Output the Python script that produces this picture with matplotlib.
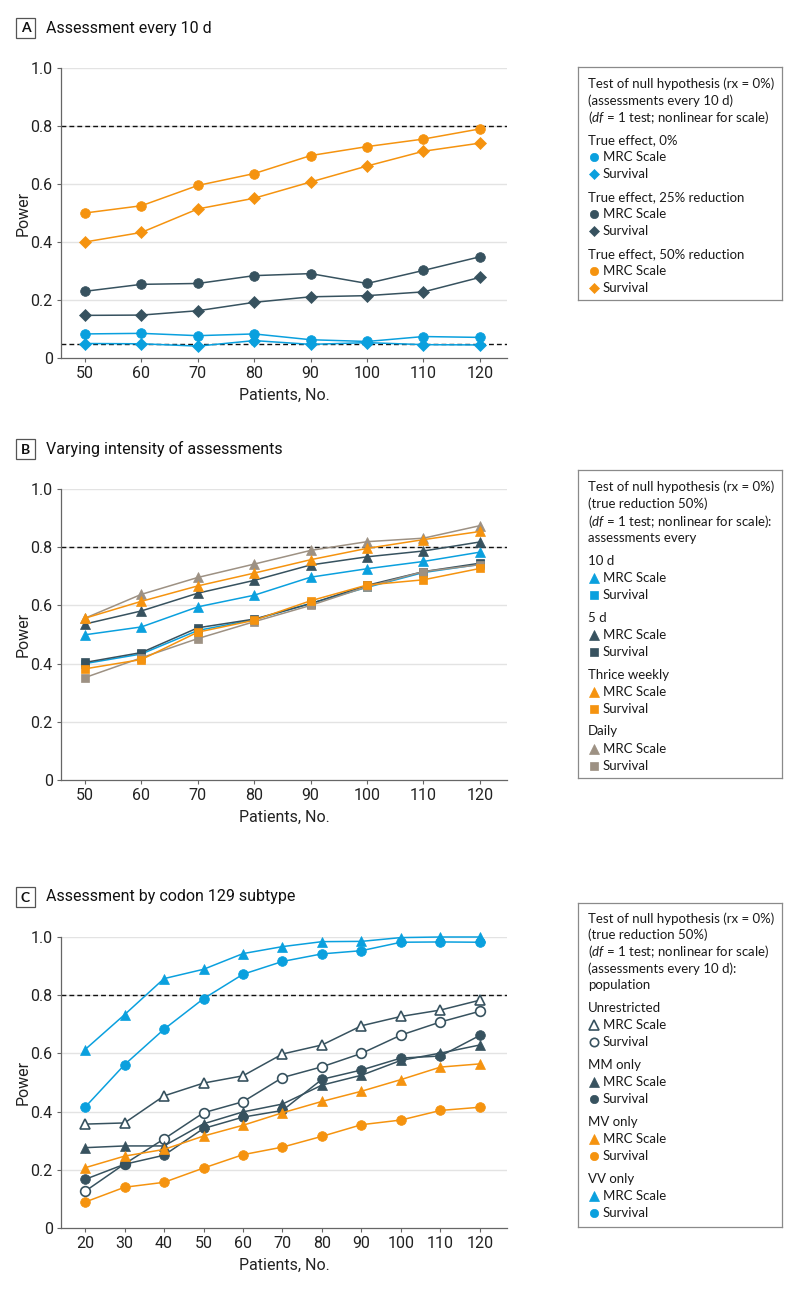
import matplotlib
matplotlib.use("Agg")
import matplotlib.pyplot as plt
from matplotlib.patches import Rectangle

# ---------------- data ----------------
patients_ab = [50, 60, 70, 80, 90, 100, 110, 120]
patients_c = [20, 30, 40, 50, 60, 70, 80, 90, 100, 110, 120]

# Panel A: assessments every 10 d
a_eff0_mrc = [0.083, 0.085, 0.077, 0.083, 0.063, 0.057, 0.074, 0.071]
a_eff0_surv = [0.050, 0.049, 0.041, 0.060, 0.047, 0.053, 0.046, 0.045]
a_eff25_mrc = [0.230, 0.254, 0.257, 0.284, 0.291, 0.257, 0.302, 0.349]
a_eff25_surv = [0.147, 0.148, 0.163, 0.192, 0.211, 0.215, 0.228, 0.278]
a_eff50_mrc = [0.500, 0.525, 0.595, 0.636, 0.698, 0.729, 0.755, 0.790]
a_eff50_surv = [0.400, 0.433, 0.514, 0.551, 0.607, 0.662, 0.713, 0.741]

# Panel B: varying intensity of assessments
b_10d_mrc = [0.499, 0.526, 0.595, 0.635, 0.697, 0.726, 0.751, 0.783]
b_10d_surv = [0.400, 0.433, 0.514, 0.551, 0.607, 0.662, 0.713, 0.741]
b_5d_mrc = [0.536, 0.581, 0.642, 0.686, 0.739, 0.767, 0.787, 0.818]
b_5d_surv = [0.404, 0.438, 0.523, 0.553, 0.606, 0.669, 0.716, 0.745]
b_thrice_mrc = [0.556, 0.614, 0.667, 0.711, 0.757, 0.796, 0.826, 0.854]
b_thrice_surv = [0.382, 0.414, 0.508, 0.549, 0.616, 0.670, 0.688, 0.727]
b_daily_mrc = [0.556, 0.638, 0.696, 0.742, 0.789, 0.819, 0.831, 0.874]
b_daily_surv = [0.352, 0.420, 0.486, 0.544, 0.600, 0.664, 0.716, 0.740]

# Panel C: codon 129 subtype
c_unres_mrc = [0.357, 0.361, 0.454, 0.498, 0.523, 0.598, 0.629, 0.695, 0.727, 0.749, 0.783]
c_unres_surv = [0.126, 0.220, 0.306, 0.396, 0.434, 0.517, 0.554, 0.600, 0.663, 0.708, 0.745]
c_mm_mrc = [0.276, 0.282, 0.282, 0.358, 0.399, 0.426, 0.491, 0.525, 0.576, 0.601, 0.629]
c_mm_surv = [0.167, 0.219, 0.250, 0.342, 0.381, 0.404, 0.511, 0.543, 0.584, 0.591, 0.662]
c_mv_mrc = [0.207, 0.247, 0.270, 0.316, 0.353, 0.396, 0.435, 0.470, 0.510, 0.553, 0.564]
c_mv_surv = [0.089, 0.140, 0.157, 0.206, 0.252, 0.278, 0.315, 0.355, 0.371, 0.404, 0.415]
c_vv_mrc = [0.613, 0.733, 0.857, 0.889, 0.943, 0.967, 0.984, 0.985, 0.998, 1.000, 1.000]
c_vv_surv = [0.415, 0.561, 0.683, 0.788, 0.872, 0.916, 0.942, 0.953, 0.982, 0.983, 0.982]

y_ticks = [0, 0.2, 0.4, 0.6, 0.8, 1.0]
y_tick_labels = ["0", "0.2", "0.4", "0.6", "0.8", "1.0"]

# ---------------- style ----------------
BLUE = "#0AA0DE"
DARK = "#37525F"
ORANGE = "#F5930F"
GRAY = "#9D9183"

AX_FONT = ["Liberation Sans Narrow", "Roboto", "DejaVu Sans"]
LEG_FONT = ["Lato", "DejaVu Sans"]

plt.rcParams["mathtext.fontset"] = "custom"
plt.rcParams["mathtext.rm"] = "Lato"
plt.rcParams["mathtext.it"] = "Lato:italic"

W, H = 800, 1290
fig = plt.figure(figsize=(W / 100, H / 100), dpi=100)


def fx(px):
    return px / W


def fy(py):
    return 1 - py / H


def make_axes(top_px, bottom_px, xlim, xticks):
    ax = fig.add_axes([fx(61), fy(bottom_px), fx(507 - 61), (bottom_px - top_px) / H])
    ax.set_xlim(*xlim)
    ax.set_ylim(0, 1.0)
    for y in y_ticks[1:]:
        ax.axhline(y, color="#E3E3E3", lw=1.0, zorder=0)
    ax.spines["top"].set_visible(False)
    ax.spines["right"].set_visible(False)
    ax.spines["left"].set_color("#666666")
    ax.spines["bottom"].set_color("#666666")
    ax.spines["left"].set_linewidth(0.9)
    ax.spines["bottom"].set_linewidth(0.9)
    ax.set_yticks(y_ticks)
    ax.set_yticklabels(y_tick_labels)
    ax.set_xticks(xticks)
    ax.set_xticklabels([str(v) for v in xticks])
    ax.tick_params(axis="both", length=3, width=0.8, color="#666666",
                   labelsize=11.5, labelcolor="#222222", pad=3)
    for lab in ax.get_xticklabels() + ax.get_yticklabels():
        lab.set_family(AX_FONT)
    ax.set_ylabel("Power", fontsize=11.5, family=AX_FONT, color="#222222", labelpad=0)
    ax.set_xlabel("Patients, No.", fontsize=11.5, family=AX_FONT, color="#222222", labelpad=5)
    ax.axhline(0.8, color="#111111", lw=1.0, ls=(0, (3.5, 2.2)), zorder=1)
    return ax


def series(ax, x, y, color, marker, ms, open_=False, z=3):
    ax.plot(x, y, color=color, lw=1.1, marker=marker, ms=ms,
            mfc="white" if open_ else color, mec=color,
            mew=1.2 if open_ else 0.5, zorder=z, clip_on=False)


def header(letter, text, cy):
    hax = fig.add_axes([0, 0, 1, 1], facecolor="none")
    hax.set_xlim(0, W)
    hax.set_ylim(H, 0)
    hax.axis("off")
    hax.add_patch(Rectangle((16, cy - 10), 19, 20, fill=False, ec="#555555", lw=0.9))
    hax.text(25.5, cy + 0.5, letter, ha="center", va="center", fontsize=10,
             fontweight="bold", family=LEG_FONT, color="#111111")
    hax.text(46, cy, text, ha="left", va="center", fontsize=11.5,
             family=AX_FONT, color="#111111")


def legend_box(top, bottom, title_lines, title_ys, entries):
    lax = fig.add_axes([fx(578), fy(bottom), fx(782 - 578), (bottom - top) / H])
    lax.set_xlim(578, 782)
    lax.set_ylim(bottom, top)
    lax.set_xticks([])
    lax.set_yticks([])
    for s in lax.spines.values():
        s.set_color("#8A8A8A")
        s.set_linewidth(0.9)
    for line, y in zip(title_lines, title_ys):
        lax.text(588, y, line, ha="left", va="center", fontsize=9.5,
                 family=LEG_FONT, color="#1A1A1A")
    for e in entries:
        if e[0] == "head":
            _, text, y = e
            lax.text(588, y, text, ha="left", va="center", fontsize=9.5,
                     family=LEG_FONT, color="#1A1A1A")
        else:
            _, text, y, color, marker, ms, open_ = e
            lax.plot([593.5], [y], marker=marker, ms=ms, color=color,
                     mfc="white" if open_ else color, mec=color,
                     mew=1.2 if open_ else 0.5, ls="none", clip_on=False)
            lax.text(603, y, text, ha="left", va="center", fontsize=9.5,
                     family=LEG_FONT, color="#1A1A1A")


# ---------------- Panel A ----------------
header("A", "Assessment every 10 d", 28)
axA = make_axes(68, 358, (45.75, 124.8), patients_ab)
axA.axhline(0.05, color="#111111", lw=1.0, ls=(0, (3.5, 2.2)), zorder=1)
series(axA, patients_ab, a_eff0_surv, BLUE, "D", 5.8)
series(axA, patients_ab, a_eff0_mrc, BLUE, "o", 7.0)
series(axA, patients_ab, a_eff25_surv, DARK, "D", 5.8)
series(axA, patients_ab, a_eff25_mrc, DARK, "o", 7.0)
series(axA, patients_ab, a_eff50_surv, ORANGE, "D", 5.8)
series(axA, patients_ab, a_eff50_mrc, ORANGE, "o", 7.0)

legend_box(67, 300,
           ["Test of null hypothesis (rx = 0%)",
            "(assessments every 10 d)",
            "($\\mathit{df}$ = 1 test; nonlinear for scale)"],
           [84, 101, 118],
           [("head", "True effect, 0%", 140),
            ("m", "MRC Scale", 157, BLUE, "o", 6.0, False),
            ("m", "Survival", 174, BLUE, "D", 5.0, False),
            ("head", "True effect, 25% reduction", 197),
            ("m", "MRC Scale", 214, DARK, "o", 6.0, False),
            ("m", "Survival", 231, DARK, "D", 5.0, False),
            ("head", "True effect, 50% reduction", 254),
            ("m", "MRC Scale", 271, ORANGE, "o", 6.0, False),
            ("m", "Survival", 288, ORANGE, "D", 5.0, False)])

# ---------------- Panel B ----------------
header("B", "Varying intensity of assessments", 449)
axB = make_axes(489, 780, (45.75, 124.8), patients_ab)
series(axB, patients_ab, b_10d_surv, BLUE, "s", 6.4)
series(axB, patients_ab, b_10d_mrc, BLUE, "^", 7.4)
series(axB, patients_ab, b_5d_surv, DARK, "s", 6.4)
series(axB, patients_ab, b_5d_mrc, DARK, "^", 7.4)
series(axB, patients_ab, b_daily_surv, GRAY, "s", 6.4)
series(axB, patients_ab, b_daily_mrc, GRAY, "^", 7.4)
series(axB, patients_ab, b_thrice_surv, ORANGE, "s", 6.4)
series(axB, patients_ab, b_thrice_mrc, ORANGE, "^", 7.4)

legend_box(470, 778,
           ["Test of null hypothesis (rx = 0%)",
            "(true reduction 50%)",
            "($\\mathit{df}$ = 1 test; nonlinear for scale):",
            "assessments every"],
           [487, 504, 521, 538],
           [("head", "10 d", 561),
            ("m", "MRC Scale", 578, BLUE, "^", 6.5, False),
            ("m", "Survival", 595, BLUE, "s", 5.5, False),
            ("head", "5 d", 618),
            ("m", "MRC Scale", 635, DARK, "^", 6.5, False),
            ("m", "Survival", 652, DARK, "s", 5.5, False),
            ("head", "Thrice weekly", 675),
            ("m", "MRC Scale", 692, ORANGE, "^", 6.5, False),
            ("m", "Survival", 709, ORANGE, "s", 5.5, False),
            ("head", "Daily", 731),
            ("m", "MRC Scale", 749, GRAY, "^", 6.5, False),
            ("m", "Survival", 766, GRAY, "s", 5.5, False)])

# ---------------- Panel C ----------------
header("C", "Assessment by codon 129 subtype", 897)
axC = make_axes(937, 1228, (13.92, 126.84), patients_c)
series(axC, patients_c, c_unres_mrc, DARK, "^", 7.4, open_=True)
series(axC, patients_c, c_unres_surv, DARK, "o", 7.0, open_=True)
series(axC, patients_c, c_mm_mrc, DARK, "^", 7.4)
series(axC, patients_c, c_mm_surv, DARK, "o", 7.0)
series(axC, patients_c, c_mv_mrc, ORANGE, "^", 7.4)
series(axC, patients_c, c_mv_surv, ORANGE, "o", 7.0)
series(axC, patients_c, c_vv_mrc, BLUE, "^", 7.4)
series(axC, patients_c, c_vv_surv, BLUE, "o", 7.0)

legend_box(903, 1227,
           ["Test of null hypothesis (rx = 0%)",
            "(true reduction 50%)",
            "($\\mathit{df}$ = 1 test; nonlinear for scale)",
            "(assessments every 10 d):",
            "population"],
           [919, 935, 952, 969, 985],
           [("head", "Unrestricted", 1008),
            ("m", "MRC Scale", 1025, DARK, "^", 6.5, True),
            ("m", "Survival", 1042, DARK, "o", 6.0, True),
            ("head", "MM only", 1065),
            ("m", "MRC Scale", 1082, DARK, "^", 6.5, False),
            ("m", "Survival", 1099, DARK, "o", 6.0, False),
            ("head", "MV only", 1122),
            ("m", "MRC Scale", 1139, ORANGE, "^", 6.5, False),
            ("m", "Survival", 1156, ORANGE, "o", 6.0, False),
            ("head", "VV only", 1179),
            ("m", "MRC Scale", 1196, BLUE, "^", 6.5, False),
            ("m", "Survival", 1213, BLUE, "o", 6.0, False)])

fig.savefig("out.png", dpi=100)
